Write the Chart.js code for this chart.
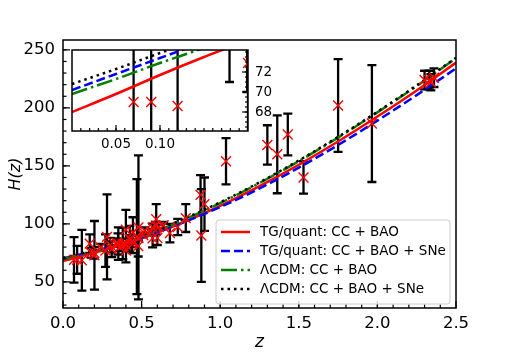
<!DOCTYPE html>
<html>
<head>
<meta charset="utf-8">
<script src="https://cdn.jsdelivr.net/npm/chart.js@4.4.0/dist/chart.umd.min.js"></script>
<style>
  html, body { margin: 0; padding: 0; background: #fff; }
  #wrap { position: relative; width: 506px; height: 354px; }
  #mainChart { position: absolute; left: 0; top: 0; }
  #insetChart { position: absolute; left: 62px; top: 40px; }
</style>
</head>
<body>
<div id="wrap">
  <canvas id="mainChart" width="506" height="354"></canvas>
  <canvas id="insetChart" width="220" height="115"></canvas>
</div>
<script>
// observed H(z): cosmic chronometers + BAO
const zObs = [0.07, 0.09, 0.12, 0.17, 0.179, 0.199, 0.2, 0.27, 0.28, 0.352, 0.38, 0.4, 0.4004,
  0.425, 0.445, 0.47, 0.4783, 0.48, 0.593, 0.68, 0.781, 0.875, 0.88, 0.9, 1.037, 1.3, 1.363,
  1.43, 1.53, 1.75, 1.965,
  0.24, 0.3, 0.31, 0.34, 0.35, 0.36, 0.38, 0.4, 0.43, 0.44, 0.44, 0.48, 0.51, 0.52, 0.56,
  0.57, 0.57, 0.59, 0.6, 0.61, 0.64, 0.73, 2.3, 2.33, 2.34, 2.36];
const hObs = [69, 69, 68.6, 83, 75, 75, 72.9, 77, 88.8, 83, 83, 95, 77,
  87.1, 92.8, 89, 80.9, 97, 104, 92, 105, 125, 90, 117, 154, 168, 160,
  177, 140, 202, 186.5,
  79.69, 81.7, 78.17, 83.8, 82.7, 79.93, 81.5, 82.04, 86.45, 82.6, 84.81, 87.79, 90.4, 94.35, 93.34,
  87.6, 96.8, 98.48, 87.9, 97.3, 98.82, 97.3, 224, 224, 222, 226];
const hErr = [19.6, 12, 26.2, 8, 4, 5, 29.6, 14, 36.6, 14, 13.5, 17, 10.2,
  11.2, 12.9, 49.6, 9, 62, 13, 8, 12, 17, 40, 23, 20, 17, 33.6,
  18, 14, 40, 50.4,
  2.99, 6.22, 6.74, 3.66, 9.1, 3.39, 1.9, 2.03, 3.68, 7.8, 1.83, 2.03, 1.9, 2.64, 2.3,
  7.8, 3.4, 3.19, 6.1, 2.1, 2.98, 7.0, 8, 8, 7, 8];

// best-fit curves
const zModel = [0, 0.05, 0.1, 0.15, 0.2, 0.25, 0.5, 0.75, 1.0, 1.25, 1.5, 1.75, 2.0, 2.25, 2.5];
const hTgCcBao      = [68.0, 69.8, 71.7, 73.5, 75.2, 77.0, 87.5, 100.5, 115.5, 132.5, 151.0, 171.0, 192.5, 215.0, 239.0];
const hTgCcBaoSne   = [70.2, 71.8, 73.4, 75.0, 76.6, 78.2, 88.3, 100.5, 114.5, 130.5, 148.5, 168.0, 189.0, 211.0, 234.0];
const hLcdmCcBao    = [69.8, 71.3, 72.9, 74.4, 76.0, 77.8, 89.1, 102.5, 117.9, 135.2, 154.1, 174.4, 196.1, 218.9, 242.8];
const hLcdmCcBaoSne = [70.8, 72.3, 73.9, 75.5, 77.1, 78.8, 89.9, 103.2, 118.6, 135.8, 154.7, 175.0, 196.6, 219.4, 243.2];

const seriesLabels = ["TG/quant: CC + BAO", "TG/quant: CC + BAO + SNe",
  "\u039bCDM: CC + BAO", "\u039bCDM: CC + BAO + SNe"];

// ticks
const xTicksMain = [0, 0.5, 1.0, 1.5, 2.0, 2.5];
const yTicksMain = [50, 100, 150, 200, 250];
const xTicksInset = [0.05, 0.10];
const yTicksInset = [68, 70, 72];

Chart.defaults.color = "#000";
Chart.defaults.font.family = "'DejaVu Sans', sans-serif";

function range(a, b, step) {
  const out = [];
  for (let v = a; v <= b + 1e-9; v += step) out.push(+v.toFixed(4));
  return out;
}

function pts(xs, ys) {
  return xs.map((x, i) => ({ x: x, y: ys[i] }));
}

function curveSets() {
  const cols = ["#ff0000", "#0000ff", "#008000", "#000000"];
  const dashes = [[], [9, 4], [16, 4, 2.5, 4], [2.5, 4]];
  const ys = [hTgCcBao, hTgCcBaoSne, hLcdmCcBao, hLcdmCcBaoSne];
  return ys.map((h, i) => ({
    label: seriesLabels[i],
    data: pts(zModel, h),
    showLine: true,
    borderColor: cols[i],
    borderWidth: 2.5,
    borderDash: dashes[i],
    pointRadius: 0,
    cubicInterpolationMode: "monotone",
    order: 4 - i
  }));
}

function markerSet() {
  return {
    data: pts(zObs, hObs),
    pointStyle: "crossRot",
    pointRadius: 7,
    borderColor: "#ff0000",
    backgroundColor: "#ff0000",
    pointBorderWidth: 1.4,
    order: 0
  };
}

// error bars drawn under the lines, clipped to the plot area
const errorBars = {
  id: "errorBars",
  beforeDatasetsDraw(chart) {
    const ctx = chart.ctx, a = chart.chartArea;
    const xs = chart.scales.x, ys = chart.scales.y;
    ctx.save();
    ctx.beginPath();
    ctx.rect(a.left, a.top, a.right - a.left, a.bottom - a.top);
    ctx.clip();
    ctx.strokeStyle = "#000";
    ctx.lineWidth = 2.3;
    zObs.forEach((z, i) => {
      const x = xs.getPixelForValue(z);
      const y1 = ys.getPixelForValue(hObs[i] - hErr[i]);
      const y2 = ys.getPixelForValue(hObs[i] + hErr[i]);
      ctx.beginPath();
      ctx.moveTo(x, y1); ctx.lineTo(x, y2);
      ctx.moveTo(x - 4.5, y1); ctx.lineTo(x + 4.5, y1);
      ctx.moveTo(x - 4.5, y2); ctx.lineTo(x + 4.5, y2);
      ctx.stroke();
    });
    ctx.restore();
  }
};

// white background for the inset
const whiteArea = {
  id: "whiteArea",
  beforeDraw(chart) {
    const a = chart.chartArea, ctx = chart.ctx;
    ctx.save();
    ctx.fillStyle = "#fff";
    ctx.fillRect(a.left, a.top, a.right - a.left, a.bottom - a.top);
    ctx.restore();
  }
};

// inward tick marks + frame
const inTicks = {
  id: "inTicks",
  afterDraw(chart, args, opts) {
    const ctx = chart.ctx, a = chart.chartArea;
    ctx.save();
    ctx.strokeStyle = "#000";
    ctx.lineWidth = 1.2;
    opts.axes.forEach(t => {
      const sc = chart.scales[t.id];
      const draw = (vals, len) => vals.forEach(v => {
        const p = sc.getPixelForValue(v);
        ctx.beginPath();
        if (t.side === "bottom") { ctx.moveTo(p, a.bottom); ctx.lineTo(p, a.bottom - len); }
        if (t.side === "left") { ctx.moveTo(a.left, p); ctx.lineTo(a.left + len, p); }
        if (t.side === "right") { ctx.moveTo(a.right, p); ctx.lineTo(a.right - len, p); }
        ctx.stroke();
      });
      draw(t.major, opts.majorLen);
      draw(t.minor, opts.minorLen);
    });
    ctx.lineWidth = 1.5;
    ctx.strokeRect(a.left, a.top, a.right - a.left, a.bottom - a.top);
    ctx.restore();
  }
};

// legend box in the lower right of the main plot
const boxLegend = {
  id: "boxLegend",
  afterDraw(chart, args, o) {
    const ctx = chart.ctx;
    ctx.save();
    ctx.fillStyle = "rgba(255,255,255,0.8)";
    ctx.strokeStyle = "#cccccc";
    ctx.lineWidth = 1;
    ctx.beginPath();
    ctx.roundRect(o.x, o.y, o.w, o.h, 3);
    ctx.fill();
    ctx.stroke();
    ctx.font = "13.5px 'DejaVu Sans'";
    ctx.textBaseline = "middle";
    chart.data.datasets.filter(d => d.label).forEach((d, i) => {
      const y = o.y + o.first + i * o.step;
      ctx.strokeStyle = d.borderColor;
      ctx.lineWidth = d.borderWidth;
      ctx.setLineDash(d.borderDash);
      ctx.beginPath();
      ctx.moveTo(o.x + 5, y);
      ctx.lineTo(o.x + 34, y);
      ctx.stroke();
      ctx.setLineDash([]);
      ctx.fillStyle = "#000";
      ctx.fillText(d.label, o.x + 44, y);
    });
    ctx.restore();
  }
};

// keep the plot area exactly where the axes say
function noPad(s) {
  s.paddingTop = 0; s.paddingBottom = 0; s.paddingLeft = 0; s.paddingRight = 0;
}

const noGrid = { display: false, drawTicks: false };

const mainChart = new Chart(document.getElementById("mainChart"), {
  type: "scatter",
  data: { datasets: curveSets().concat([markerSet()]) },
  plugins: [errorBars, inTicks, boxLegend],
  options: {
    responsive: false,
    animation: false,
    devicePixelRatio: 1,
    layout: { padding: { top: 40, right: 50, left: 0, bottom: 0 } },
    plugins: {
      legend: { display: false },
      tooltip: { enabled: false },
      inTicks: {
        majorLen: 7, minorLen: 3.5,
        axes: [
          { id: "x", side: "bottom", major: xTicksMain, minor: range(0.1, 2.4, 0.1) },
          { id: "y", side: "left", major: yTicksMain, minor: range(30, 250, 10) }
        ]
      },
      boxLegend: { x: 216, y: 220, w: 234, h: 84, first: 12, step: 19 }
    },
    scales: {
      x: {
        type: "linear", min: 0, max: 2.5,
        grid: noGrid, border: { display: false },
        afterBuildTicks: s => { s.ticks = xTicksMain.map(v => ({ value: v })); },
        afterFit: s => { s.height = 46; noPad(s); },
        ticks: { padding: 6, font: { size: 16.5 }, callback: v => v.toFixed(1), maxRotation: 0 },
        title: { display: true, text: "z", font: { size: 17, style: "italic" }, padding: { top: 0, bottom: 1 } }
      },
      y: {
        type: "linear", min: 27.5, max: 258.5,
        grid: noGrid, border: { display: false },
        afterBuildTicks: s => { s.ticks = yTicksMain.map(v => ({ value: v })); },
        afterFit: s => { s.width = 63; noPad(s); },
        ticks: { padding: 8, font: { size: 16.5 }, callback: v => v },
        title: { display: true, text: "H(z)", font: { size: 16, style: "italic" }, padding: { top: 6, bottom: 0 } }
      }
    }
  }
});

// inset: canvas at (62,40), 10px padding so the plot area starts at (72,50)
const insetChart = new Chart(document.getElementById("insetChart"), {
  type: "scatter",
  data: { datasets: curveSets().concat([markerSet()]) },
  plugins: [whiteArea, errorBars, inTicks],
  options: {
    responsive: false,
    animation: false,
    devicePixelRatio: 1,
    layout: { padding: { top: 10, left: 10, right: 0, bottom: 0 } },
    plugins: {
      legend: { display: false },
      tooltip: { enabled: false },
      inTicks: {
        majorLen: 6, minorLen: 3,
        axes: [
          { id: "x", side: "bottom", major: xTicksInset, minor: range(0.01, 0.19, 0.01) },
          { id: "y", side: "right", major: yTicksInset, minor: range(66.5, 74, 0.5) }
        ]
      }
    },
    scales: {
      x: {
        type: "linear", min: 0, max: 0.2,
        grid: noGrid, border: { display: false },
        afterBuildTicks: s => { s.ticks = xTicksInset.map(v => ({ value: v })); },
        afterFit: s => { s.height = 24; noPad(s); },
        ticks: { padding: 5, font: { size: 13.5 }, callback: v => v.toFixed(2), maxRotation: 0 }
      },
      y: {
        type: "linear", position: "right", min: 66.1, max: 74.2,
        grid: noGrid, border: { display: false },
        afterBuildTicks: s => { s.ticks = yTicksInset.map(v => ({ value: v })); },
        afterFit: s => { s.width = 34; noPad(s); },
        ticks: { padding: 7, font: { size: 13.5 }, callback: v => v }
      }
    }
  }
});
</script>
</body>
</html>
